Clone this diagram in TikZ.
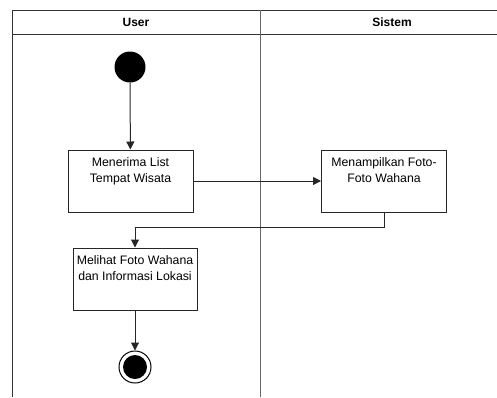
\documentclass[tikz,border=0pt]{standalone}
\usepackage{fontspec}
\setmainfont{Liberation Sans}
\usetikzlibrary{arrows.meta}
\begin{document}
\begin{tikzpicture}[x=1pt,y=-1pt,
  lane/.style={draw=black!80,line width=1pt},
  act/.style={draw=black!85,line width=1pt,rectangle,minimum width=125pt,minimum height=62pt,inner sep=0pt},
  acttext/.style={font=\fontsize{12.3}{16}\selectfont,align=center,anchor=north,inner sep=0pt},
  flow/.style={draw=black!85,line width=1pt,-{Triangle[length=8pt,width=8pt]}},
  hdr/.style={font=\fontsize{12}{14}\selectfont\bfseries}]
\useasboundingbox (0,0) rectangle (497,397);
% swimlanes
\draw[lane] (12,397) -- (12,10) -- (497,10);
\draw[lane] (12,34) -- (497,34);
\draw[lane,draw=black!60] (260,10) -- (260,397);
\node[hdr] (hu) at (136,22) {User};
\node[hdr] (hs) at (392,22) {Sistem};
% start
\node[circle,fill=black,minimum size=31pt,inner sep=0pt] (start) at (130,67) {};
% activities
\node[act] (a1) at (130.5,181) {};
\node[acttext] (t1) at ([yshift=-8pt]a1.north) {Menerima List\\Tempat Wisata};
\node[act] (a2) at (384,181) {};
\node[acttext] (t2) at ([yshift=-8pt]a2.north) {Menampilkan Foto-\\Foto Wahana};
\node[act,minimum width=124pt] (a3) at (135,279) {};
\node[acttext] (t3) at ([yshift=-8pt]a3.north) {Melihat Foto Wahana\\dan Informasi Lokasi};
% end
\node[circle,draw=black,line width=1pt,minimum size=32pt,inner sep=0pt] (end) at (135,367) {};
\node[circle,fill=black,minimum size=24pt,inner sep=0pt] (endin) at (end.center) {};
% flows
\draw[flow] (start) -- (a1);
\draw[flow] (a1) -- (a2);
\draw[flow] (a2.south) -- ++(0,15) -| (a3.north);
\draw[flow] (a3) -- (end);
\end{tikzpicture}
\end{document}
